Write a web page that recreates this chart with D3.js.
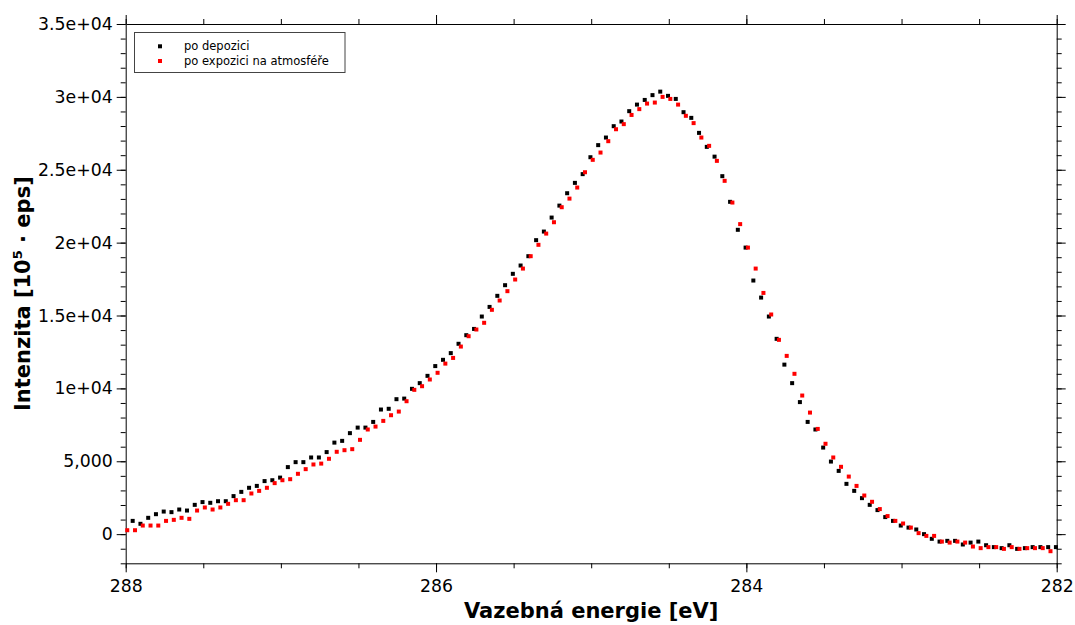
<!DOCTYPE html>
<html>
<head>
<meta charset="utf-8">
<script src="https://cdn.jsdelivr.net/npm/d3@7"></script>
<style>
body { margin: 0; background: #fff; }
svg text { font-family: "DejaVu Sans", sans-serif; }
</style>
</head>
<body>
<div id="chart"></div>
<script>
// C 1s spektrum - po depozici / po expozici na atmosfere

let seriesNames = ["po depozici", "po expozici na atmosféře"]
let seriesColors = ["#000000", "#ff0000"]

// intenzita (krok 0.05 eV)
let depozice = [
    910, 710, 1120, 1370, 1550, 1510, 1690, 1620, 2010, 2200,
    2150, 2260, 2260, 2610, 2900, 3180, 3310, 3640, 3700, 3880,
    4600, 4940, 4940, 5260, 5260, 5630, 6280, 6400, 6930, 7310,
    7310, 7700, 8550, 8600, 9260, 9300, 9970, 10360, 10860, 11530,
    11960, 12420, 13060, 13650, 14080, 14930, 15590, 16350, 17080, 17860,
    18430, 19070, 20170, 20760, 21720, 22540, 23390, 24100, 24700, 25860,
    26690, 27210, 27990, 28310, 29020, 29470, 29790, 30120, 30360, 30070,
    29860, 28950, 28560, 27530, 26570, 25900, 24560, 22800, 20880, 19660,
    17400, 16230, 14930, 13400, 11630, 10360, 9060, 7700, 7180, 5940,
    4980, 4340, 3450, 2970, 2470, 2010, 1650, 1170, 910, 590,
    450, 320, 0, -320, -510, -460, -460, -710, -580, -510,
    -760, -890, -960, -760, -1010, -960, -890, -890, -890, -890
]
let expozice = [
    270, 270, 590, 590, 590, 910, 980, 1120, 1050, 1620,
    1830, 1690, 1830, 2080, 2330, 2330, 2790, 2970, 3180, 3500,
    3700, 3770, 4140, 4460, 4780, 4840, 5170, 5650, 5760, 5830,
    6470, 7180, 7380, 7770, 8160, 8410, 9120, 9900, 10150, 10610,
    11070, 11700, 12090, 12870, 13580, 14040, 14500, 15390, 16030, 16670,
    17470, 18220, 19070, 19850, 20620, 21400, 22430, 23020, 23780, 24830,
    25680, 26180, 26960, 27780, 28130, 28760, 29160, 29540, 29610, 30000,
    29860, 29470, 28700, 28200, 27210, 26640, 25610, 24240, 22750, 21270,
    19660, 18220, 16550, 15070, 13330, 12230, 11000, 9510, 8340, 7220,
    6200, 5260, 4620, 3950, 3310, 2650, 2220, 1720, 1240, 910,
    730, 450, 70, -120, -120, -510, -580, -510, -580, -850,
    -960, -890, -890, -1010, -890, -1010, -960, -960, -960, -1170
]

// energeticka mrizka spektrometru [eV]
let eStep = 0.05
let energieDep = depozice.map((v, i) => +(287.955 - eStep * i).toFixed(3))
let energieExp = expozice.map((v, i) => +(287.99 - eStep * i).toFixed(3))

let xTicks = [288, 286, 284, 282]
let yTicks = [0, 5000, 10000, 15000, 20000, 25000, 30000, 35000]
let yTickLabels = ["0", "5,000", "1e+04", "1.5e+04", "2e+04", "2.5e+04", "3e+04", "3.5e+04"]

let width = 1075
let height = 625
let margin = { top: 24, right: 18.3, bottom: 61.7, left: 125.7 }

let svg = d3.select("#chart")
    .append("svg")
    .attr("width", width)
    .attr("height", height)

let x = d3.scaleLinear()
    .domain([288, 282])
    .range([margin.left, width - margin.right])
let y = d3.scaleLinear()
    .domain([-2000, 35000])
    .range([height - margin.bottom, margin.top])

const majorLen = 9
const minorLen = 5
let xMinor = d3.range(288, 281.99, -0.5)
let yMinor = d3.range(-2000, 35001, 1000)

function styleAxis(g) {
    g.attr("font-family", "DejaVu Sans, sans-serif")
        .attr("font-size", 17.3)
    g.selectAll("line").attr("stroke", "#000")
    g.selectAll("path").attr("stroke", "#000")
    g.selectAll("text").attr("fill", "#000")
}

// minor ticks on all four sides
svg.append("g")
    .attr("transform", "translate(0," + y.range()[0] + ")")
    .call(d3.axisBottom(x).tickValues(xMinor).tickSize(minorLen).tickFormat(""))
    .call(g => g.select(".domain").remove())
    .call(styleAxis)
svg.append("g")
    .attr("transform", "translate(0," + y.range()[1] + ")")
    .call(d3.axisTop(x).tickValues(xMinor).tickSize(minorLen).tickFormat(""))
    .call(g => g.select(".domain").remove())
    .call(styleAxis)
svg.append("g")
    .attr("transform", "translate(" + x.range()[0] + ",0)")
    .call(d3.axisLeft(y).tickValues(yMinor).tickSize(minorLen).tickFormat(""))
    .call(g => g.select(".domain").remove())
    .call(styleAxis)
svg.append("g")
    .attr("transform", "translate(" + x.range()[1] + ",0)")
    .call(d3.axisRight(y).tickValues(yMinor).tickSize(minorLen).tickFormat(""))
    .call(g => g.select(".domain").remove())
    .call(styleAxis)

// major ticks + frame
svg.append("g")
    .attr("transform", "translate(0," + y.range()[0] + ")")
    .call(d3.axisBottom(x).tickValues(xTicks).tickSize(majorLen).tickSizeOuter(0)
        .tickPadding(7.4).tickFormat(d3.format("d")))
    .call(styleAxis)
svg.append("g")
    .attr("transform", "translate(0," + y.range()[1] + ")")
    .call(d3.axisTop(x).tickValues(xTicks).tickSize(majorLen).tickSizeOuter(0).tickFormat(""))
    .call(styleAxis)
svg.append("g")
    .attr("transform", "translate(" + x.range()[0] + ",0)")
    .call(d3.axisLeft(y).tickValues(yTicks).tickSize(majorLen).tickSizeOuter(0)
        .tickPadding(4).tickFormat((d, i) => yTickLabels[i]))
    .call(styleAxis)
svg.append("g")
    .attr("transform", "translate(" + x.range()[1] + ",0)")
    .call(d3.axisRight(y).tickValues(yTicks).tickSize(majorLen).tickSizeOuter(0).tickFormat(""))
    .call(styleAxis)

// axis titles
svg.append("text")
    .attr("x", (x.range()[0] + x.range()[1]) / 2)
    .attr("y", 618)
    .attr("text-anchor", "middle")
    .attr("font-size", 21)
    .attr("font-weight", "bold")
    .text("Vazebná energie [eV]")

let ytitle = svg.append("text")
    .attr("transform", "translate(29.5," + (y.range()[0] + y.range()[1]) / 2 + ")rotate(-90)")
    .attr("text-anchor", "middle")
    .attr("font-size", 21)
    .attr("font-weight", "bold")
ytitle.append("tspan").text("Intenzita [10")
ytitle.append("tspan").attr("font-size", 13).attr("dy", -8).text("5")
ytitle.append("tspan").attr("dy", 8).text(" · eps]")

// data points
let series = [
    { name: seriesNames[0], color: seriesColors[0], xs: energieDep, ys: depozice },
    { name: seriesNames[1], color: seriesColors[1], xs: energieExp, ys: expozice }
]
const ms = 4

series.forEach(s => {
    svg.append("g")
        .selectAll("rect")
        .data(s.ys)
        .enter()
        .append("rect")
        .attr("x", (d, i) => x(s.xs[i]) - ms / 2)
        .attr("y", d => y(d) - ms / 2)
        .attr("width", ms)
        .attr("height", ms)
        .attr("fill", s.color)
})

// legend
let legend = svg.append("g")
legend.append("rect")
    .attr("x", 134.5)
    .attr("y", 32.5)
    .attr("width", 210.5)
    .attr("height", 40)
    .attr("fill", "#fff")
    .attr("stroke", "#444")
    .attr("stroke-width", 1)

series.forEach((s, i) => {
    let ly = 46.3 + i * 14.7
    legend.append("rect")
        .attr("x", 160 - ms / 2)
        .attr("y", ly - ms / 2)
        .attr("width", ms)
        .attr("height", ms)
        .attr("fill", s.color)
    legend.append("text")
        .attr("x", 184)
        .attr("y", ly)
        .attr("dy", "0.35em")
        .attr("font-size", 11.5)
        .attr("fill", "#000")
        .text(s.name)
})
</script>
</body>
</html>
